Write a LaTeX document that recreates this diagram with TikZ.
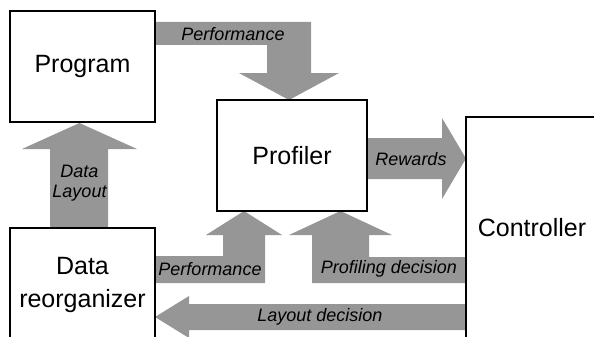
\documentclass[tikz,border=0pt]{standalone}
\usepackage{fontspec}
\setmainfont{Liberation Sans}
\usetikzlibrary{backgrounds}
\definecolor{arrowgray}{RGB}{150,150,150}
\begin{document}
\begin{tikzpicture}[x=1pt,y=-1pt,
  box/.style={draw=black,line width=1.2pt,fill=white,inner sep=0pt,
    font=\fontsize{25}{30}\selectfont,align=center},
  lbl/.style={font=\fontsize{18}{20}\selectfont\itshape,inner sep=0pt,align=center},
  fat/.style={fill=arrowgray,draw=none}]
\useasboundingbox (0,0) rectangle (594,337);
\clip (0,0) rectangle (594,337);

% boxes
\node[box,minimum width=145pt,minimum height=111pt] (prog) at (82.5,66.5) {Program};
\node[box,minimum width=150pt,minimum height=111pt] (prof) at (292,155.5) {Profiler};
\node[box,minimum width=145pt,minimum height=114pt,
  font=\fontsize{25}{33}\selectfont] (reorg) at (82.5,285) {Data\\reorganizer};
\node[box,minimum width=132pt,minimum height=222pt] (ctrl) at (532,228) {Controller};

\begin{scope}[on background layer]
% Program -> Profiler (Performance)
\fill[fat] (prog.east |- 0,22) -- (311,22) -- (311,73) -- (339,73) -- (289,100)
  -- (239,73) -- (267,73) -- (267,45) -- (prog.east |- 0,45) -- cycle;
% Data reorganizer -> Program (Data Layout)
\fill[fat] (50,228) -- (50,149) -- (22,149) -- (79.5,123) -- (137,149)
  -- (108,149) -- (108,228) -- cycle;
% Profiler -> Controller (Rewards)
\fill[fat] (prof.east |- 0,138) -- (442,138) -- (442,118) -- (466,158.5)
  -- (442,199) -- (442,179) -- (prof.east |- 0,179) -- cycle;
% Data reorganizer -> Profiler (Performance)
\fill[fat] (155,283) -- (155,256) -- (223,256) -- (223,235) -- (206,235)
  -- (244,211) -- (282,235) -- (265,235) -- (265,283) -- cycle;
% Controller -> Profiler (Profiling decision)
\fill[fat] (466,283) -- (312,283) -- (312,235) -- (289,235) -- (340.5,211)
  -- (392,235) -- (369,235) -- (369,257) -- (466,257) -- cycle;
% Controller -> Data reorganizer (Layout decision)
\fill[fat] (466,304) -- (189,304) -- (189,296) -- (155,317) -- (189,338)
  -- (189,330) -- (466,330) -- cycle;
\end{scope}

% labels
\node[lbl] (lperf1) at (233,34) {Performance};
\node[lbl] (ldl) at (79.5,183) {Data\\Layout};
\node[lbl] (lrew) at (411,159) {Rewards};
\node[lbl] (lperf2) at (210,269) {Performance};
\node[lbl] (lprofd) at (389,269) {Profiling decision};
\node[lbl] (llayd) at (320,317) {Layout decision};
\end{tikzpicture}
\end{document}
